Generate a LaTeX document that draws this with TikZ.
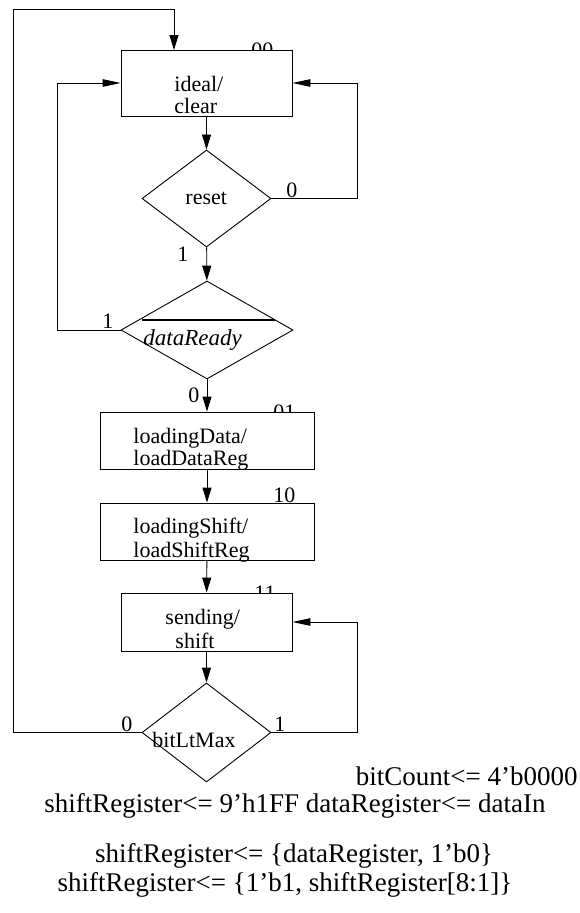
\documentclass[tikz,border=0pt]{standalone}
\usepackage{fontspec}
\setmainfont{Liberation Serif}
\usetikzlibrary{arrows.meta,shapes.geometric}
\begin{document}
\begin{tikzpicture}[x=1pt,y=-1pt,
  line width=0.9pt,
  varr/.style={-{Triangle[length=15pt,width=9pt]}},
  harr/.style={-{Triangle[length=18pt,width=7.5pt]}},
  txt/.style={font=\fontsize{22}{24}\selectfont, inner sep=0pt, anchor=base west},
  itxt/.style={font=\fontsize{23}{24}\selectfont\itshape, inner sep=0pt, anchor=base west},
  eqtxt/.style={font=\fontsize{27}{28}\selectfont, inner sep=0pt},
  statebox/.style={draw, fill=white, rectangle, inner sep=0pt},
  decision/.style={draw, fill=white, diamond, inner sep=0pt}
]
\useasboundingbox (0,0) rectangle (580,913);

% state codes (drawn first, partly hidden by the boxes)
\node[txt] (c00) at (251,57) {00};
\node[txt] (c01) at (273,419) {01};
\node[txt] (c10) at (273,502) {10};
\node[txt] (c11) at (254,600) {11};

% state boxes
\node[statebox, minimum width=171pt, minimum height=66pt] (b1) at (206.5,83) {};
\node[statebox, minimum width=214pt, minimum height=57pt] (b2) at (207,440.5) {};
\node[statebox, minimum width=214pt, minimum height=57pt] (b3) at (207,531.5) {};
\node[statebox, minimum width=171pt, minimum height=58pt] (b4) at (206.5,622) {};

% decisions
\node[decision, minimum width=129pt, minimum height=97pt] (d1) at (206.5,198.5) {};
\node[decision, minimum width=172pt, minimum height=98pt] (d2) at (207,330) {};
\node[decision, minimum width=129pt, minimum height=99pt] (d3) at (206.5,732.5) {};

% texts in boxes
\node[txt] (t1a) at (174,91) {ideal/};
\node[txt] (t1b) at (174,113) {clear};
\node[txt] (t2a) at (133,443) {loadingData/};
\node[txt] (t2b) at (133,465) {loadDataReg};
\node[txt] (t3a) at (133,533) {loadingShift/};
\node[txt] (t3b) at (133,557) {loadShiftReg};
\node[txt] (t4a) at (165,624) {sending/};
\node[txt] (t4b) at (175,648) {shift};

% texts in decisions
\node[txt] (r) at (185,204) {reset};
\node[itxt] (dr) at (143,345) {dataReady};
\coordinate (olA) at (142,320);
\coordinate (olB) at (275,320);
\draw[line width=1.6pt] (olA) -- (olB);
\node[txt] (bl) at (152,747) {bitLtMax};

% branch labels
\node[txt] (l0a) at (286,197) {0};
\node[txt] (l1a) at (177,261) {1};
\node[txt] (l1b) at (102,328) {1};
\node[txt] (l0b) at (188,402) {0};
\node[txt] (l0c) at (121,731) {0};
\node[txt] (l1c) at (274,731) {1};

% connectors
\draw[varr] (b1) -- (d1);
\draw[varr] (d1) -- (d2);
\draw[varr] (d2) -- (b2);
\draw[varr] (b2) -- (b3);
\draw[varr] (b3) -- (b4);
\draw[varr] (b4) -- (d3);
\draw[harr] (d1.east) -- (357,198.5) |- (b1.east);
\draw[harr] (d2.west) -- (57,330) |- (b1.west);
\draw[harr] (d3.east) -- (357,732.5) |- (b4.east);
\coordinate (top) at (174,50);
\draw[varr] (d3.west) -- (13,732.5) -- (13,9) -| (top);

% equations
\node[eqtxt, anchor=base east] (e1) at (578,785) {bitCount<= 4’b0000};
\node[eqtxt, anchor=base] (e2) at (295,812) {shiftRegister<= 9’h1FF dataRegister<= dataIn};
\node[eqtxt, anchor=base] (e3) at (294,862) {shiftRegister<= \{dataRegister, 1’b0\}};
\node[eqtxt, anchor=base] (e4) at (285,891) {shiftRegister<= \{1’b1, shiftRegister[8:1]\}};
\end{tikzpicture}
\end{document}
